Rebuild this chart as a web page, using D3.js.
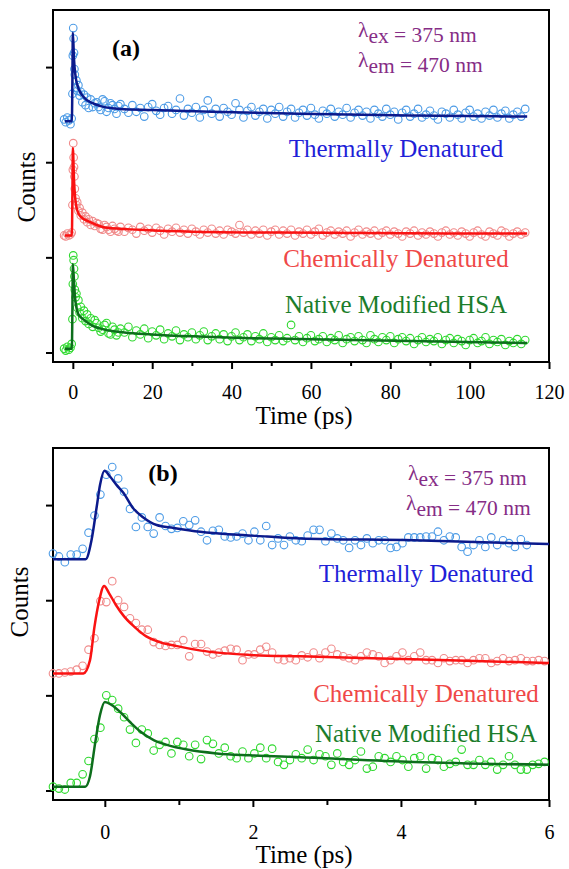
<!DOCTYPE html>
<html>
<head>
<meta charset="utf-8">
<script src="https://cdn.jsdelivr.net/npm/d3@7/dist/d3.min.js"></script>
<style>
  body { margin: 0; background: #fff; }
  svg { display: block; }
  text { font-family: "Liberation Serif", "Times New Roman", serif; }
</style>
</head>
<body>
<svg id="chart" width="569" height="869"></svg>
<script>
// ---------- Panel (a): long time window ----------
const timesA = [-2.2,-1.8,-1.4,-1.0,-0.6,-0.3,-0.1,0,0.1,0.2,0.3,0.4,0.5,0.7,0.9,1.1,1.4,1.7,2.0,2.4,2.8,3.2,3.6,4.0,4.5,5.0,
  5.5,6,6.5,7,7.5,8,8.5,9,9.5,10,10.5,11,11.5,12,13,14,15,16,17,18,19,20,21,22,23,24,25,26,27,28,29,30,31,32,33,34,35,36,37,38,39,40,
  41,42,43,44,45,46,47,48,49,50,51,52,53,54,55,56,57,58,59,60,61,62,63,64,65,66,67,68,69,70,
  71,72,73,74,75,76,77,78,79,80,81,82,83,84,85,86,87,88,89,90,91,92,93,94,95,96,97,98,99,100,
  101,102,103,104,105,106,107,108,109,110,111,112,113,114];

const thermalA = [2.45,2.42,2.47,2.44,2.40,2.46,2.72,3.12,3.41,3.30,3.15,2.98,2.92,2.78,2.86,2.75,2.81,2.70,2.74,2.63,2.71,2.60,2.68,2.57,2.66,2.58,
  2.62,2.63,2.58,2.55,2.66,2.64,2.53,2.57,2.62,2.60,2.56,2.51,2.59,2.61,2.56,2.52,2.60,
  2.53,2.57,2.48,2.58,2.61,2.54,2.50,2.57,2.59,2.51,
  2.55,2.67,2.49,2.56,2.52,2.58,2.47,2.55,2.65,2.51,
  2.56,2.48,2.57,2.53,2.50,2.62,2.55,2.47,2.54,2.58,
  2.49,2.53,2.56,2.46,2.55,2.51,2.58,2.48,2.53,2.56,
  2.47,2.52,2.55,2.49,2.57,2.50,2.46,2.54,2.51,2.56,
  2.48,2.53,2.50,2.57,2.47,2.52,2.55,2.49,2.53,2.46,
  2.55,2.51,2.48,2.56,2.50,2.53,2.45,2.52,2.55,2.48,
  2.51,2.56,2.47,2.50,2.54,2.49,2.45,2.53,2.51,2.47,
  2.55,2.50,2.46,2.52,2.55,2.48,2.51,2.46,2.53,2.49,
  2.55,2.47,2.51,2.54,2.46,2.50,2.53,2.48,2.56];

const chemicalA = [1.23,1.22,1.25,1.23,1.24,1.26,1.55,1.92,2.20,2.05,1.95,1.85,1.72,1.62,1.55,1.58,1.49,1.52,1.44,1.47,1.40,1.43,1.37,1.40,1.34,1.38,
  1.33,1.36,1.35,1.30,1.29,1.34,1.32,1.29,1.27,1.33,1.30,1.28,1.27,1.32,1.27,1.31,1.29,
  1.25,1.32,1.28,1.30,1.26,1.31,1.28,1.24,1.30,1.27,
  1.31,1.26,1.29,1.25,1.30,1.27,1.24,1.29,1.26,1.30,
  1.25,1.28,1.24,1.29,1.27,1.25,1.34,1.26,1.29,1.24,
  1.28,1.25,1.29,1.23,1.27,1.29,1.24,1.28,1.25,1.29,
  1.23,1.27,1.25,1.29,1.24,1.27,1.30,1.23,1.26,1.28,
  1.24,1.27,1.25,1.28,1.22,1.26,1.29,1.24,1.27,1.25,
  1.28,1.23,1.26,1.28,1.24,1.27,1.25,1.22,1.27,1.25,
  1.28,1.23,1.26,1.24,1.27,1.25,1.22,1.26,1.28,1.24,
  1.26,1.23,1.27,1.25,1.22,1.26,1.28,1.24,1.22,1.27,
  1.25,1.23,1.28,1.26,1.22,1.25,1.27,1.24,1.26];

const nativeA = [0.04,0.02,0.06,0.03,0.05,0.09,0.35,0.72,1.02,0.97,0.88,0.80,0.66,0.58,0.62,0.47,0.55,0.42,0.48,0.36,0.44,0.33,0.40,0.30,0.36,0.27,
  0.34,0.31,0.26,0.22,0.24,0.29,0.31,0.20,0.19,0.27,0.24,0.18,0.21,0.25,0.21,0.27,0.16,
  0.23,0.19,0.25,0.15,0.22,0.18,0.24,0.14,0.20,0.17,
  0.23,0.13,0.19,0.16,0.21,0.14,0.18,0.22,0.13,0.17,
  0.20,0.14,0.19,0.12,0.17,0.21,0.13,0.16,0.19,0.12,
  0.17,0.14,0.20,0.11,0.16,0.13,0.18,0.12,0.15,0.29,
  0.13,0.17,0.11,0.15,0.18,0.12,0.14,0.17,0.11,0.15,
  0.13,0.18,0.10,0.14,0.16,0.12,0.17,0.13,0.10,0.18,
  0.14,0.11,0.16,0.13,0.17,0.10,0.14,0.16,0.12,0.15,
  0.09,0.13,0.16,0.11,0.14,0.12,0.16,0.09,0.13,0.15,
  0.10,0.14,0.12,0.08,0.13,0.15,0.10,0.12,0.16,0.09,
  0.13,0.11,0.14,0.08,0.12,0.10,0.14,0.09,0.13];

// fitted decays, panel (a)
const fitThermalATimes = [-2.0,-0.25,-0.1,0,0.3,1.0,2.6,5,7,12,20,35,57,85,114.5];
const fitThermalA      = [2.43,2.43,2.9,3.36,3.08,2.83,2.69,2.62,2.59,2.56,2.55,2.53,2.51,2.49,2.48];
const fitChemicalATimes = [-2.0,-0.25,-0.1,0,0.3,0.9,1.9,4.4,8.6,17,30,52,114.5];
const fitChemicalA      = [1.23,1.23,1.7,2.15,1.81,1.53,1.43,1.37,1.31,1.29,1.27,1.26,1.25];
const fitNativeATimes = [-2.0,-0.25,-0.1,0,0.3,0.6,1.4,2.6,5,8,13,20,30,45,60,85,114.5];
const fitNativeA      = [0.04,0.04,0.5,0.93,0.74,0.56,0.40,0.35,0.28,0.24,0.21,0.19,0.17,0.15,0.14,0.12,0.10];

// ---------- Panel (b): first 6 ps ----------
const timesB = [-0.70,-0.62,-0.54,-0.46,-0.38,-0.30,-0.22,-0.14,-0.06,0.02,0.10,0.18,0.26,0.34,0.42,0.50,0.58,0.66,0.74,0.82,
  0.90,0.98,1.06,1.14,1.22,1.30,1.38,1.46,1.54,1.62,1.70,1.78,1.86,1.94,2.02,2.10,2.18,2.26,2.34,2.42,
  2.50,2.58,2.66,2.74,2.82,2.90,2.98,3.06,3.14,3.22,3.30,3.38,3.46,3.54,3.62,3.70,3.78,3.86,3.94,4.02,
  4.10,4.18,4.26,4.34,4.42,4.50,4.58,4.66,4.74,4.82,4.90,4.98,5.06,5.14,5.22,5.30,5.38,5.46,5.54,5.62,
  5.70,5.78,5.86,5.94];

const thermalB = [2.49,2.46,2.40,2.48,2.48,2.54,2.71,2.89,3.11,3.32,
  3.40,3.28,3.14,2.96,2.77,2.87,2.77,2.70,2.87,2.78,
  2.75,2.76,2.83,2.79,2.84,2.72,2.63,2.73,2.74,2.67,
  2.66,2.67,2.70,2.63,2.72,2.63,2.78,2.58,2.65,2.58,
  2.67,2.63,
  2.62,2.68,2.74,2.74,2.62,2.70,2.65,2.63,2.55,2.63,
  2.58,2.65,2.60,2.63,2.63,2.55,2.56,2.60,2.66,2.66,
  2.66,2.67,2.67,2.72,2.63,2.67,2.66,2.56,2.51,2.58,
  2.63,2.56,2.66,2.58,2.63,2.60,2.56,2.64,2.58];

const chemicalB = [1.23,1.23,1.24,1.25,1.27,1.31,1.48,1.60,1.99,1.98,
  2.20,2.00,1.93,1.81,1.76,1.69,1.69,1.56,1.53,1.52,
  1.53,1.53,1.58,1.41,1.54,1.54,
  1.46,1.43,1.45,1.47,1.49,1.48,1.37,1.43,1.43,1.48,
  1.51,1.45,1.38,1.37,1.39,1.37,1.42,
  1.40,1.45,1.39,1.45,1.49,1.43,1.41,1.39,1.37,1.41,
  1.45,1.43,1.41,1.34,1.37,1.41,1.45,1.37,1.41,1.45,
  1.37,1.37,1.34,1.39,1.36,1.37,1.37,1.34,1.37,1.39,
  1.39,1.34,1.36,1.39,1.36,1.37,1.39,1.36,1.36,1.37,
  1.36];

const nativeB = [0.04,0.02,0.01,0.08,0.08,0.17,0.31,0.54,0.66,1.00,
  0.95,0.86,0.77,0.64,0.50,0.64,0.60,0.42,0.48,0.51,
  0.39,0.51,0.48,0.36,0.48,0.33,0.53,0.49,0.39,0.45,
  0.36,0.34,0.41,0.34,0.39,0.45,0.34,0.44,0.30,0.27,
  0.32,0.38,0.34,
  0.43,0.32,0.38,0.36,0.27,0.39,0.30,0.27,0.32,0.41,
  0.23,0.25,0.36,0.34,0.30,0.36,0.32,0.25,0.34,0.36,
  0.23,0.34,0.32,0.25,0.28,0.30,0.43,0.27,0.27,0.32,
  0.27,0.30,0.22,0.27,0.36,0.27,0.22,0.22,0.27,0.28,
  0.30];

// fitted decays, panel (b)
const fitThermalBTimes = [-0.70,-0.26,-0.18,-0.11,-0.065,-0.005,0.07,0.16,0.25,0.38,0.52,0.70,0.93,1.29,1.74,2.19,2.64,4.17,6.0];
const fitThermalB      = [2.43,2.43,2.63,2.98,3.21,3.36,3.30,3.21,3.13,2.97,2.87,2.79,2.76,2.72,2.69,2.67,2.65,2.63,2.59];
const fitChemicalBTimes = [-0.70,-0.29,-0.20,-0.14,-0.075,-0.01,0.06,0.15,0.26,0.40,0.56,0.74,0.96,1.3,1.96,2.64,4.17,6.0];
const fitChemicalB      = [1.23,1.23,1.37,1.72,2.00,2.15,2.07,1.95,1.83,1.72,1.62,1.56,1.52,1.47,1.425,1.41,1.38,1.34];
const fitNativeBTimes = [-0.70,-0.265,-0.20,-0.13,-0.066,0.0,0.09,0.2,0.34,0.48,0.66,0.84,1.11,1.51,1.96,2.64,4.17,6.0];
const fitNativeB      = [0.04,0.04,0.15,0.50,0.79,0.93,0.90,0.83,0.72,0.62,0.53,0.48,0.43,0.39,0.37,0.35,0.30,0.27];

// ---------- axes and labels ----------
const xTicksA = [0,20,40,60,80,100,120];
const xMinorA = [10,30,50,70,90,110];
const xTicksB = [0,2,4,6];
const xMinorB = [1,3,5];
const yTicks = [0,1,2,3];
const seriesNames = ["Thermally Denatured","Chemically Denatured","Native Modified HSA"];
const excitation = "375 nm";
const emission = "470 nm";
const xTitle = "Time (ps)";
const yTitle = "Counts";

const colors = {
  thermal:  { dot: "#4c9be6", fit: "#0b1a8c", text: "#1f1fd8" },
  chemical: { dot: "#f08a8a", fit: "#fa1212", text: "#ef4848" },
  native:   { dot: "#2fd92f", fit: "#0d6e1c", text: "#1b7d2b" }
};
const purple = "#862d86";

const svg = d3.select("#chart");
const left = 53, right = 549;

function drawPanel(cfg) {
  const x = d3.scaleLinear().domain(cfg.xDomain).range([left, right]);
  const y = d3.scaleLinear().domain([-0.1, 3.6]).range([cfg.bottom, cfg.top]);
  const g = svg.append("g");

  // frame
  g.append("rect")
    .attr("x", left).attr("y", cfg.top)
    .attr("width", right - left).attr("height", cfg.bottom - cfg.top)
    .attr("fill", "none").attr("stroke", "#000").attr("stroke-width", 2);

  // x axis: major ticks with labels, minor ticks without
  const xMajor = g.append("g").attr("transform", `translate(0,${cfg.bottom})`)
    .call(d3.axisBottom(x).tickValues(cfg.xTicks).tickSize(7).tickPadding(cfg.labelPad).tickFormat(d3.format("d")));
  const xMinor = g.append("g").attr("transform", `translate(0,${cfg.bottom})`)
    .call(d3.axisBottom(x).tickValues(cfg.xMinor).tickSize(cfg.minorLen).tickFormat(""));
  const yAxis = g.append("g").attr("transform", `translate(${left},0)`)
    .call(d3.axisLeft(y).tickValues(yTicks).tickSize(7).tickFormat(""));
  [xMajor, xMinor, yAxis].forEach(a => {
    a.select(".domain").remove();
    a.selectAll(".tick line").attr("stroke", "#000").attr("stroke-width", 2);
  });
  xMajor.selectAll(".tick text")
    .attr("font-family", "Liberation Serif, Times New Roman, serif")
    .attr("font-size", 20).attr("fill", "#000");

  // axis titles
  g.append("text").attr("x", 304).attr("y", cfg.xTitleY)
    .attr("text-anchor", "middle").attr("font-size", 25).text(xTitle);
  g.append("text")
    .attr("transform", `translate(${cfg.yTitleX},${cfg.yTitleY}) rotate(-90)`)
    .attr("text-anchor", "middle").attr("font-size", 25).text(yTitle);

  // data circles, then fitted curves on top
  const line = d3.line().x(d => x(d[0])).y(d => y(d[1])).curve(d3.curveMonotoneX);
  cfg.series.forEach(s => {
    const pts = s.values.map((v, i) => [cfg.times[i], v]);
    g.append("g").selectAll("circle").data(pts).join("circle")
      .attr("cx", d => x(d[0])).attr("cy", d => y(d[1])).attr("r", 3.8)
      .attr("fill", "none").attr("stroke", s.color.dot).attr("stroke-width", 1.1);
  });
  cfg.series.forEach(s => {
    const fit = s.fitTimes.map((t, i) => [t, s.fit[i]]);
    g.append("path").datum(fit).attr("d", line)
      .attr("fill", "none").attr("stroke", s.color.fit).attr("stroke-width", 2.5)
      .attr("stroke-linejoin", "round");
  });

  // panel letter
  g.append("text").attr("x", cfg.letterX).attr("y", cfg.letterY)
    .attr("text-anchor", "middle").attr("font-size", 24).attr("font-weight", "bold")
    .text(cfg.letter);

  // wavelength annotation
  [[cfg.exX, cfg.exY, "ex", excitation], [cfg.emX, cfg.emY, "em", emission]].forEach(([tx, ty, sub, val]) => {
    const t = g.append("text").attr("x", tx).attr("y", ty).attr("font-size", 21.5).attr("fill", purple);
    t.append("tspan").attr("dy", -5).text("λ");
    t.append("tspan").attr("dy", 6).text(sub);
    t.append("tspan").attr("dy", -1).text(" = " + val);
  });

  // series names
  cfg.series.forEach((s, i) => {
    g.append("text").attr("x", cfg.nameX).attr("y", cfg.nameY[i])
      .attr("text-anchor", "middle").attr("font-size", 25).attr("fill", s.color.text)
      .text(seriesNames[i]);
  });
}

drawPanel({
  top: 10, bottom: 362, xDomain: [-5, 120], xTicks: xTicksA, xMinor: xMinorA, minorLen: 4,
  labelPad: 16, xTitleY: 424, yTitleX: 35, yTitleY: 187,
  times: timesA,
  series: [
    { values: thermalA, fitTimes: fitThermalATimes, fit: fitThermalA, color: colors.thermal },
    { values: chemicalA, fitTimes: fitChemicalATimes, fit: fitChemicalA, color: colors.chemical },
    { values: nativeA, fitTimes: fitNativeATimes, fit: fitNativeA, color: colors.native }
  ],
  letter: "(a)", letterX: 126, letterY: 56,
  exX: 358, exY: 42, emX: 358, emY: 72,
  nameX: 396, nameY: [157, 267, 313]
});

drawPanel({
  top: 448, bottom: 800, xDomain: [-0.7, 6], xTicks: xTicksB, xMinor: xMinorB, minorLen: 5,
  labelPad: 18, xTitleY: 863, yTitleX: 28, yTitleY: 602,
  times: timesB,
  series: [
    { values: thermalB, fitTimes: fitThermalBTimes, fit: fitThermalB, color: colors.thermal },
    { values: chemicalB, fitTimes: fitChemicalBTimes, fit: fitChemicalB, color: colors.chemical },
    { values: nativeB, fitTimes: fitNativeBTimes, fit: fitNativeB, color: colors.native }
  ],
  letter: "(b)", letterX: 163, letterY: 481,
  exX: 408, exY: 485, emX: 406, emY: 515,
  nameX: 426, nameY: [582, 702, 742]
});
</script>
</body>
</html>
